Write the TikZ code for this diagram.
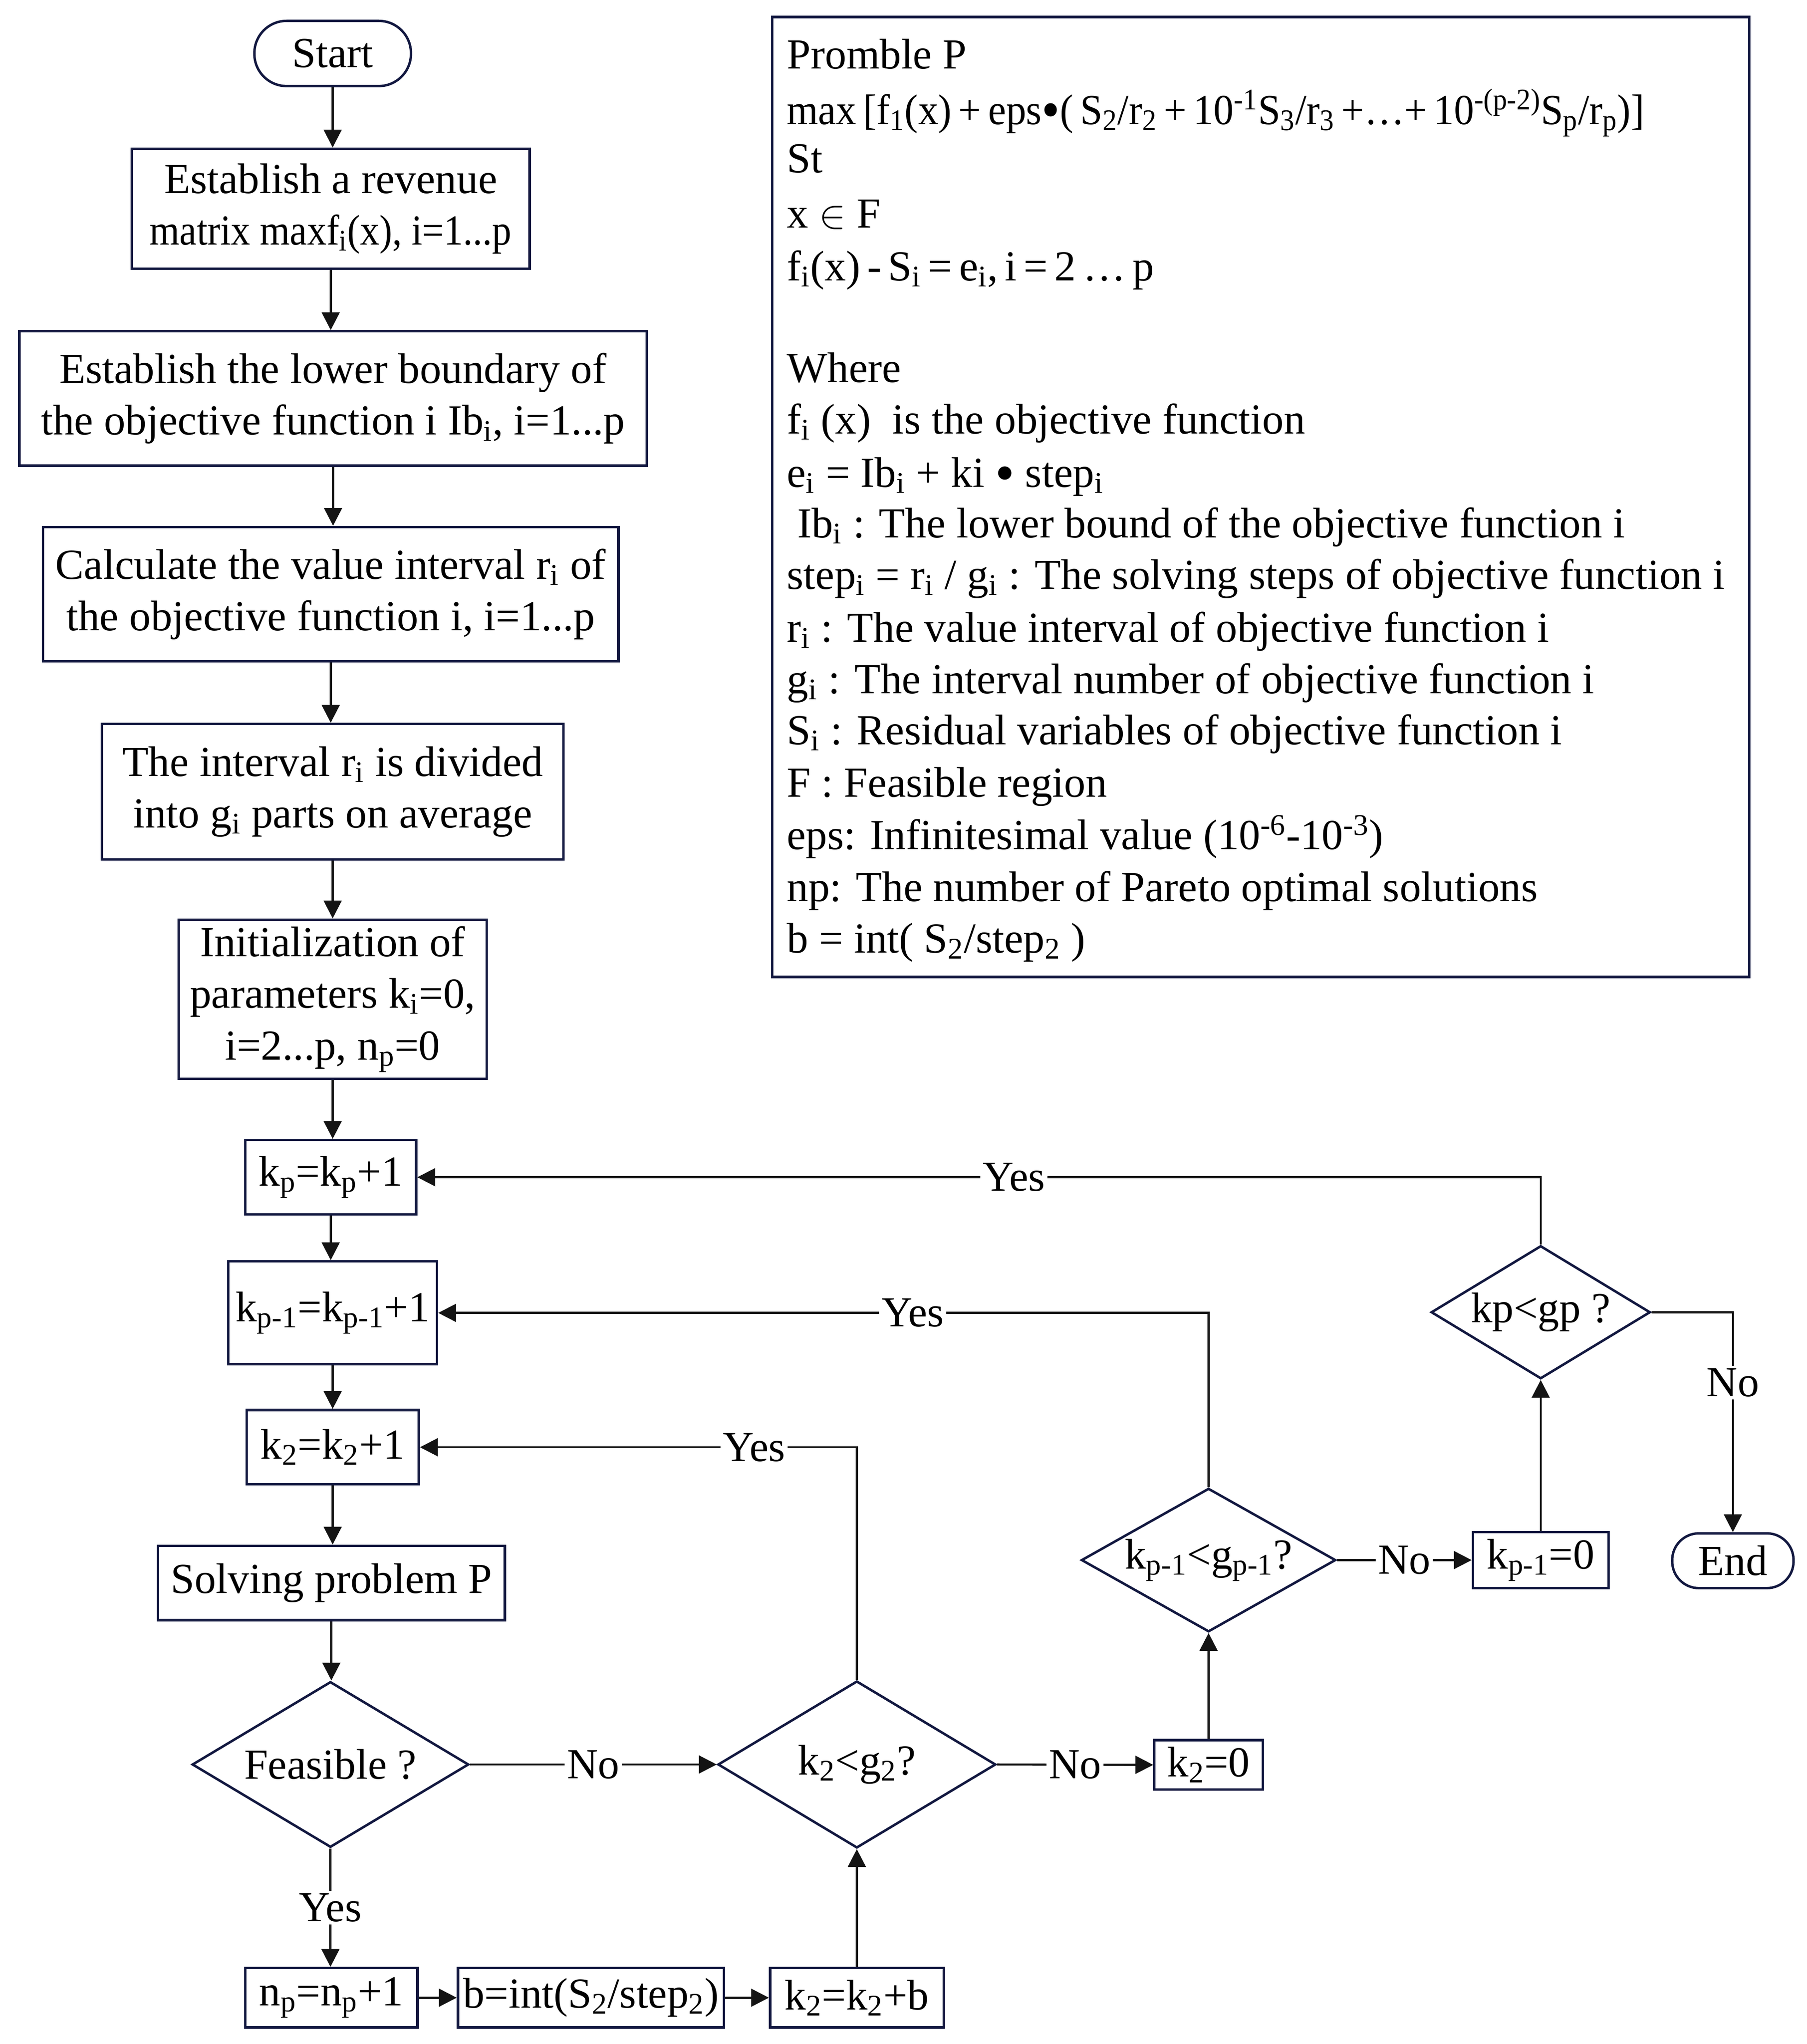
\documentclass[tikz,border=0pt]{standalone}
\usepackage{graphicx}
\usepackage{fontspec}
\setmainfont{Liberation Serif}
\usetikzlibrary{arrows.meta,shapes.geometric}
\def\pu{0.02837cm}
\newcommand{\bul}{\raisebox{-0.1em}{\scalebox{1.3}{•}}}
\definecolor{boxc}{RGB}{18,24,64}
\definecolor{linec}{RGB}{20,20,20}
\begin{document}
\begin{tikzpicture}[x=0.02837cm, y={(0,-0.02837cm)},
 every node/.style={font=\fontsize{26.5}{32}\selectfont, text=black},
 sz/.style 2 args={minimum width=#1*\pu, minimum height=#2*\pu},
 box/.style={draw=boxc, line width=1.5pt, rectangle, inner sep=0pt, align=center},
 dia/.style={draw=boxc, line width=1.5pt, diamond, inner sep=0pt, align=center},
 term/.style={draw=boxc, line width=1.5pt, rectangle, rounded corners=#1, inner sep=0pt},
 arr/.style={draw=linec, line width=1.3pt, -{Triangle[length=11pt,width=11pt]}},
 lab/.style={fill=white, inner sep=1.5pt},
 ptxt/.style={anchor=base west, inner sep=0pt},
]
\useasboundingbox (0,0) rectangle (1385,1567);
\fill[white] (0,0) rectangle (1385,1567);

% left column
\node[term=0.7cm, sz={120}{50}] (start) at (255,41) {Start};
\node[box, sz={305}{92}] (b1) at (253.5,160) {Establish a revenue\\\scalebox{0.9}[1]{matrix maxf\textsubscript{i}(x), i=1...p}};
\node[box, sz={481}{103}] (b2) at (255.3,305.5) {Establish the lower boundary of\\the objective function i Ib\textsubscript{i}, i=1...p};
\node[box, sz={441}{103}] (b3) at (253.5,455.5) {Calculate the value interval r\textsubscript{i} of\\the objective function i, i=1...p};
\node[box, sz={354}{104}] (b4) at (255,607) {The interval r\textsubscript{i} is divided\\into g\textsubscript{i} parts on average};
\node[box, sz={236}{122}] (b5) at (255,766) {Initialization of\\parameters k\textsubscript{i}=0,\\i=2...p, n\textsubscript{p}=0};
\node[box, sz={131}{57}] (kp) at (253.5,902.5) {k\textsubscript{p}=k\textsubscript{p}+1};
\node[box, sz={160}{79}] (kp1) at (255,1006.5) {k\textsubscript{p-1}=k\textsubscript{p-1}+1};
\node[box, sz={132}{57}] (k2) at (255,1109.5) {k\textsubscript{2}=k\textsubscript{2}+1};
\node[box, sz={266}{57}] (solve) at (254,1213.5) {Solving problem P};
\node[dia, aspect=1.669, sz={212}{127}] (feas) at (253.3,1352.7) {Feasible ?};
\node[box, sz={132}{45.5}] (np) at (254,1531.5) {n\textsubscript{p}=n\textsubscript{p}+1};
\node[box, sz={204}{45.5}] (bint) at (453,1531.5) {b=int(S\textsubscript{2}/step\textsubscript{2})};
\node[box, sz={133}{45.5}] (k2b) at (656.8,1531.5) {k\textsubscript{2}=k\textsubscript{2}+b};
\node[dia, aspect=1.664, sz={213}{128}] (k2d) at (656.8,1352.7) {k\textsubscript{2}<g\textsubscript{2}?};
\node[box, sz={83}{38}] (k2zero) at (926.4,1353) {k\textsubscript{2}=0};
\node[dia, aspect=1.773, sz={195}{110}] (kp1d) at (926.4,1196) {k\textsubscript{p-1}<g\textsubscript{p-1}?};
\node[box, sz={104}{43}] (kp1zero) at (1181,1196) {k\textsubscript{p-1}=0};
\node[dia, aspect=1.647, sz={168}{102}] (kpd) at (1181,1006) {kp<gp ?};
\node[term=0.58cm, sz={93}{42}] (end) at (1328.3,1196.5) {End};

% vertical arrows left column
\draw[arr] (start.south) -- (start.south |- b1.north);
\draw[arr] (b1.south) -- (b1.south |- b2.north);
\draw[arr] (b2.south) -- (b2.south |- b3.north);
\draw[arr] (b3.south) -- (b3.south |- b4.north);
\draw[arr] (b4.south) -- (b4.south |- b5.north);
\draw[arr] (b5.south) -- (b5.south |- kp.north);
\draw[arr] (kp.south) -- (kp.south |- kp1.north);
\draw[arr] (kp1.south) -- (kp1.south |- k2.north);
\draw[arr] (k2.south) -- (k2.south |- solve.north);
\draw[arr] (solve.south) -- (solve.south |- feas.north);

% decisions
\draw[arr] (feas.east) -- node[lab]{No} (k2d.west);
\draw[arr] (feas.south) -- node[lab]{Yes} (feas.south |- np.north);
\draw[arr] (np.east) -- (bint.west);
\draw[arr] (bint.east) -- (k2b.west);
\draw[arr] (k2b.north) -- (k2d.south);
\draw[arr] (k2d.north) -- (k2d.north |- k2.east) -- node[lab,pos=0.235]{Yes} (k2.east);
\draw[arr] (k2d.east) -- node[lab]{No} (k2zero.west);
\draw[arr] (k2zero.north) -- (kp1d.south);
\draw[arr] (kp1d.north) -- (kp1d.north |- kp1.east) -- node[lab,pos=0.384]{Yes} (kp1.east);
\draw[arr] (kp1d.east) -- node[lab]{No} (kp1zero.west);
\draw[arr] (kp1zero.north) -- (kpd.south);
\draw[arr] (kpd.north) -- (kpd.north |- kp.east) -- node[lab,pos=0.469]{Yes} (kp.east);
\draw[arr] (kpd.east) -- (kpd.east -| end.north) -- node[lab,pos=0.32]{No} (end.north);

% problem panel
\draw[draw=boxc, line width=1.5pt] (592,13) rectangle (1341,749);
\node[ptxt] (t1) at (603,52.6) {Promble P};
\node[ptxt] (t2) at (603,95.2) {\scalebox{0.94}[1]{\spaceskip=0.17em max [f\textsubscript{1}(x) + eps\bul( S\textsubscript{2}/r\textsubscript{2} + 10\textsuperscript{-1}S\textsubscript{3}/r\textsubscript{3} +…+ 10\textsuperscript{-(p-2)}S\textsubscript{p}/r\textsubscript{p})]}};
\node[ptxt] (t3) at (603,132.3) {St};
\node[ptxt] (t4) at (603,174.8) {x $\in$ F};
\node[ptxt] (t5) at (603,215) {\spaceskip=0.16em f\textsubscript{i}(x) - S\textsubscript{i} = e\textsubscript{i}, i = 2 … p};
\node[ptxt] (t6) at (603,293) {Where};
\node[ptxt] (t7) at (603,332.6) {f\textsubscript{i} (x)\ \ is the objective function};
\node[ptxt] (t8) at (603,373.5) {e\textsubscript{i} = Ib\textsubscript{i} + ki \bul{} step\textsubscript{i}};
\node[ptxt] (t9) at (611,412.3) {Ib\textsubscript{i} : The lower bound of the objective function i};
\node[ptxt] (t10) at (603,451.7) {step\textsubscript{i} = r\textsubscript{i} / g\textsubscript{i} : The solving steps of objective function i};
\node[ptxt] (t11) at (603,492.2) {r\textsubscript{i} : The value interval of objective function i};
\node[ptxt] (t12) at (603,531.5) {g\textsubscript{i} : The interval number of objective function i};
\node[ptxt] (t13) at (603,570.9) {S\textsubscript{i} : Residual variables of objective function i};
\node[ptxt] (t14) at (603,611) {F : Feasible region};
\node[ptxt] (t15) at (603,651.3) {eps: Infinitesimal value (10\textsuperscript{-6}-10\textsuperscript{-3})};
\node[ptxt] (t16) at (603,690.8) {np: The number of Pareto optimal solutions};
\node[ptxt] (t17) at (603,730.5) {b = int( S\textsubscript{2}/step\textsubscript{2} )};
\end{tikzpicture}
\end{document}
